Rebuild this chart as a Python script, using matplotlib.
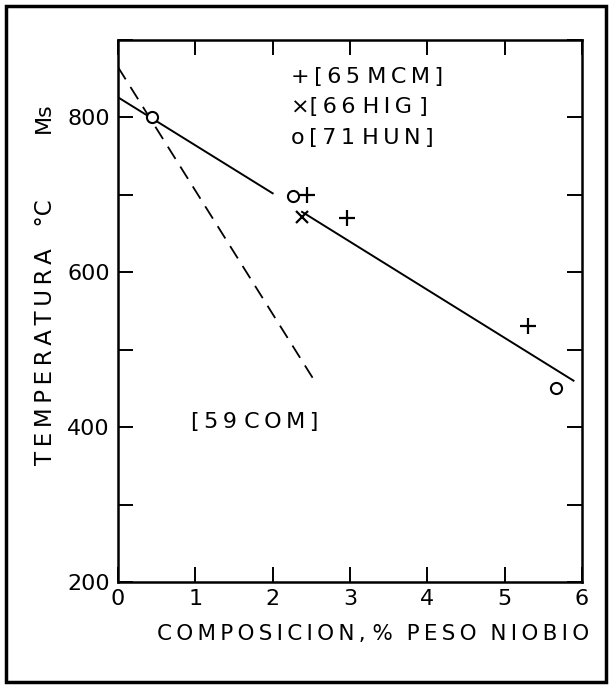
import matplotlib
matplotlib.use("Agg")
import matplotlib.pyplot as plt
from matplotlib.patches import Rectangle
from matplotlib.ticker import FixedLocator, FuncFormatter

plt.rcParams['font.family'] = 'DejaVu Sans'

# puntos experimentales
mcm_x = [2.44, 2.96, 5.30]
mcm_y = [700, 670, 530]
hig_x = [2.38]
hig_y = [672]
hun_x = [0.44, 2.26, 5.67]
hun_y = [800, 698, 450]

# recta ajustada (con hueco junto a los puntos de ~2.3 %)
fit1_x = [0.0, 2.0]
fit1_y = [826, 702]
fit2_x = [2.38, 5.89]
fit2_y = [678, 460]

# recta de [59 COM]
com_x = [0.0, 2.54]
com_y = [865, 460]

TS = '\u2009'  # espacio fino


def spaced(s):
    return TS.join(list(s))


fig = plt.figure(figsize=(6.12, 6.85), dpi=100)
ax = fig.add_axes([0.1928, 0.1504, 0.7582, 0.7912])

ax.plot(fit1_x, fit1_y, color='black', lw=1.4)
ax.plot(fit2_x, fit2_y, color='black', lw=1.4)
ax.plot(com_x, com_y, color='black', lw=1.3, dashes=(8, 5))

ax.plot(mcm_x, mcm_y, ls='none', marker='+', ms=11, mew=1.6, color='black')
ax.plot(hig_x, hig_y, ls='none', marker='x', ms=8, mew=1.6, color='black')
ax.plot(hun_x, hun_y, ls='none', marker='o', ms=8, mew=1.5, mfc='white', mec='black')

ax.set_xlim(0, 6)
ax.set_ylim(200, 900)
ax.xaxis.set_major_locator(FixedLocator([0, 1, 2, 3, 4, 5, 6]))
ax.yaxis.set_major_locator(FixedLocator([200, 300, 400, 500, 600, 700, 800, 900]))
ax.yaxis.set_major_formatter(FuncFormatter(lambda v, p: f"{int(v)}" if v in (200, 400, 600, 800) else ""))
ax.tick_params(direction='in', length=11, width=1.4, top=True, right=True,
               labelsize=16, pad=6)
ax.tick_params(axis='x', pad=5)
for s in ax.spines.values():
    s.set_linewidth(1.8)

# leyenda escrita a mano
leg_x = 2.24
ax.text(leg_x, 852, '+' + TS + spaced('[65') + ' ' + spaced('MCM]'), fontsize=16, va='center', ha='left')
ax.text(leg_x, 813, '\u00d7' + spaced('[66') + ' ' + spaced('HIG') + ' ]', fontsize=16, va='center', ha='left')
ax.text(leg_x, 774, 'o' + TS + spaced('[71') + ' ' + spaced('HUN]'), fontsize=16, va='center', ha='left')
ax.text(1.77, 407, spaced('[59') + ' ' + spaced('COM]'), fontsize=16, va='center', ha='center')

fig.text(46 / 612, 1 - 332 / 685, spaced('TEMPERATURA') + '   °C', rotation=90,
         fontsize=16.5, ha='center', va='center')
fig.text(44 / 612, 1 - 118 / 685, 'Ms', rotation=90, fontsize=16, ha='center', va='center')
fig.text(373 / 612, 1 - 634 / 685,
         spaced('COMPOSICION') + TS + ', %  ' + spaced('PESO') + '  ' + spaced('NIOBIO'),
         fontsize=15.5, ha='center', va='center')

# marco exterior
fig.patches.append(Rectangle((6 / 612, 3 / 685), 600 / 612, 676 / 685, transform=fig.transFigure,
                             fill=False, lw=2.5, ec='black'))

fig.savefig('out.png', dpi=100)
